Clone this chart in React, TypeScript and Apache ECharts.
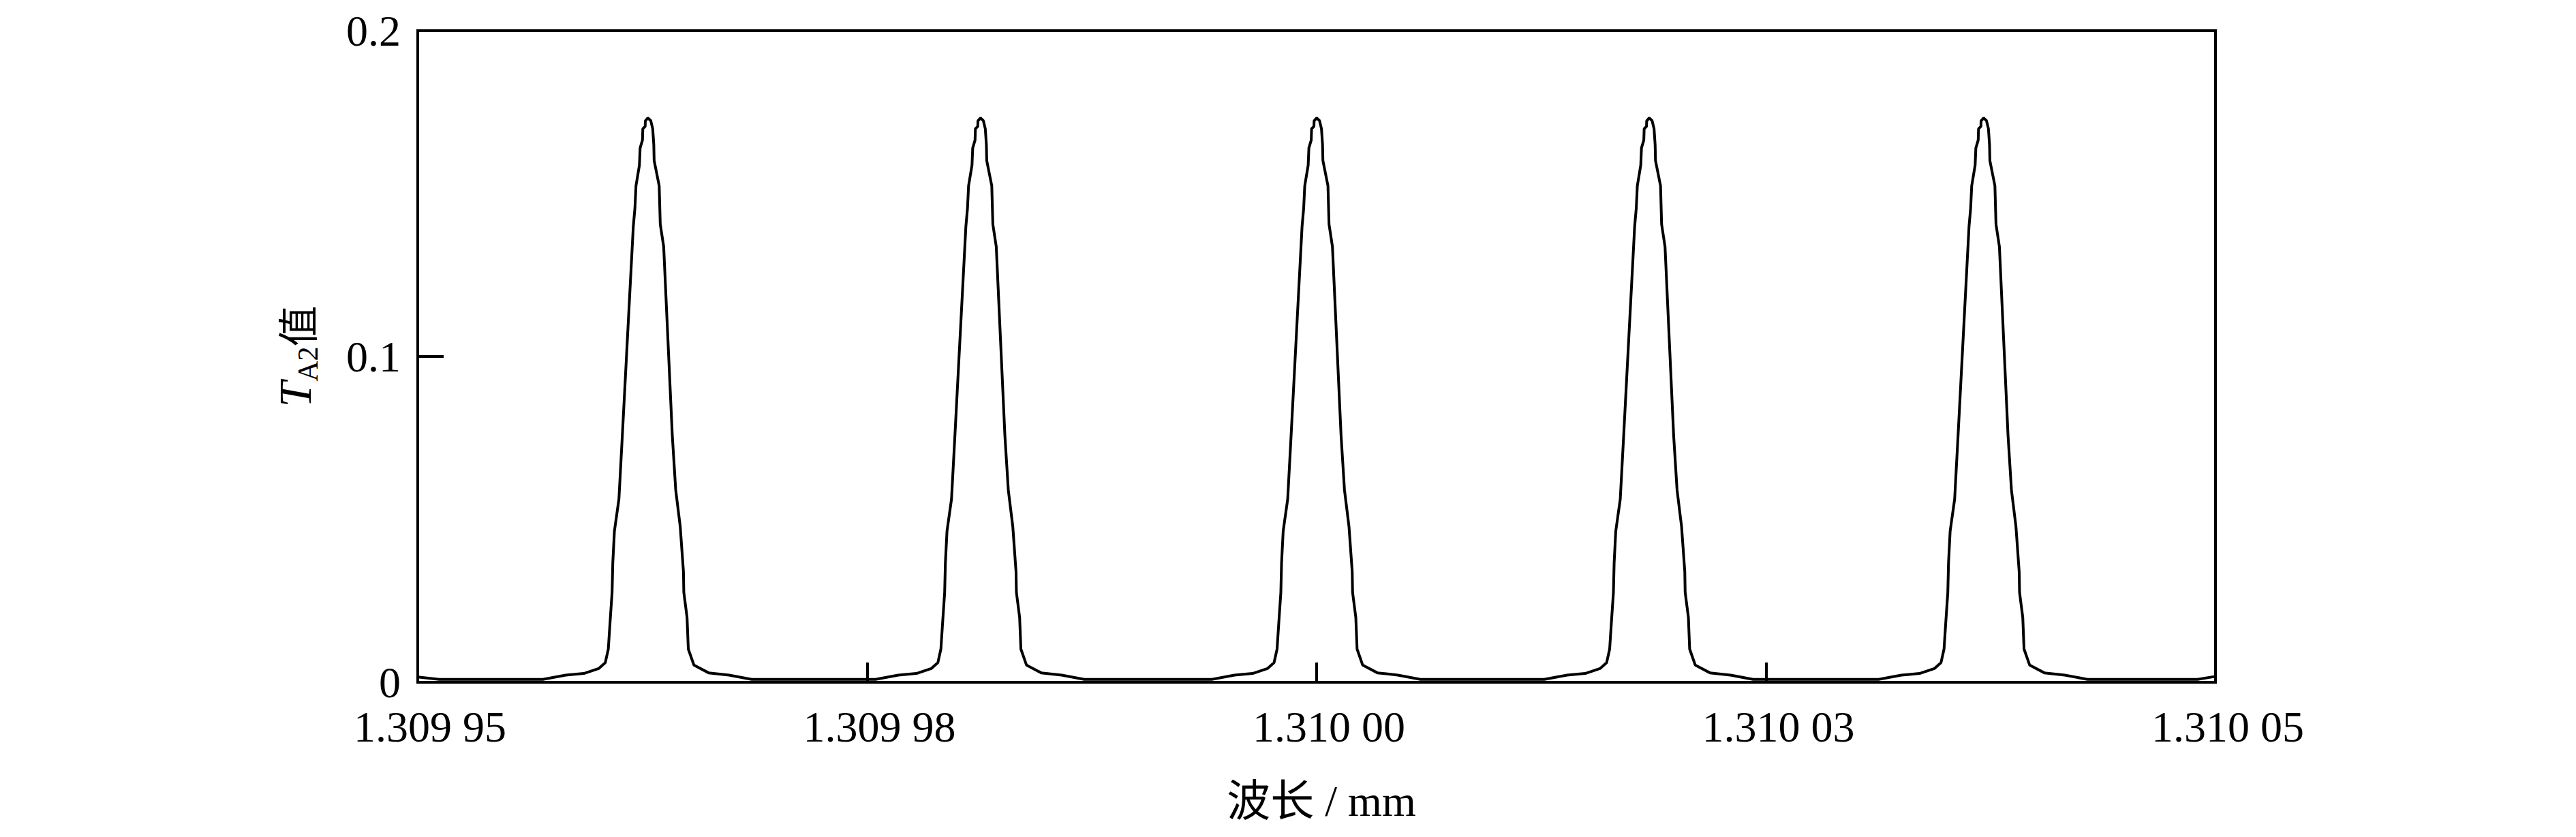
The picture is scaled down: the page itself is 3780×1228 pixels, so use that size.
import React, { useEffect, useRef } from "react";
import * as echarts from "echarts";

// x axis (wavelength, mm)
const xMin = 1.30995;
const xMax = 1.31005;
const xInterval = 0.000025;
const xTickLabels = ["1.309 95", "1.309 98", "1.310 00", "1.310 03", "1.310 05"];

// y axis
const yMin = 0;
const yMax = 0.2;
const yInterval = 0.1;

// peak centres (mm)
const peakCenters = [1.3099628, 1.3099813, 1.31, 1.3100185, 1.3100371];

// one transmission peak: offset from centre (nm = 1e-6 mm) and T_A2 value
const profileOffsetNm = [
  -5.84, -4.57, -3.56, -2.74, -2.37, -2.2, -2.11, -1.99, -1.95, -1.86, -1.61, -1.42,
  -0.81, -0.72, -0.66, -0.47, -0.43, -0.3, -0.28, -0.15, -0.14, 0, 0.16, 0.27, 0.33,
  0.35, 0.63, 0.69, 0.88, 1.36, 1.55, 1.8, 1.98, 2.0, 2.18, 2.25, 2.56, 3.38, 4.52, 5.78,
];
const profileValue = [
  0.0009, 0.0022, 0.0027, 0.0042, 0.006, 0.0102, 0.0178, 0.0276, 0.0367, 0.0464, 0.0562,
  0.0757, 0.1399, 0.1455, 0.1524, 0.1587, 0.164, 0.1664, 0.1699, 0.1706, 0.1723, 0.1732,
  0.1724, 0.1699, 0.165, 0.1601, 0.1524, 0.1406, 0.1337, 0.0757, 0.059, 0.0478, 0.0339,
  0.0276, 0.0199, 0.0102, 0.0053, 0.0029, 0.0022, 0.0009,
];

// ends of the curve at the plot edges
const leftEdgeX = [1.30995, 1.3099512];
const leftEdgeY = [0.0016, 0.0009];
const rightEdgeX = [1.310049, 1.31005];
const rightEdgeY = [0.0009, 0.0018];

function buildData(): [number, number][] {
  const pts: [number, number][] = [];
  leftEdgeX.forEach((x, i) => pts.push([x, leftEdgeY[i]]));
  peakCenters.forEach((c) => {
    profileOffsetNm.forEach((d, i) => pts.push([c + d * 1e-6, profileValue[i]]));
  });
  rightEdgeX.forEach((x, i) => pts.push([x, rightEdgeY[i]]));
  return pts;
}

const SERIF = "'Liberation Serif', 'Times New Roman', 'Noto Sans CJK SC', serif";

export default function App() {
  const ref = useRef<HTMLDivElement>(null);
  useEffect(() => {
    if (!ref.current) return;
    const chart = echarts.init(ref.current, undefined, { renderer: "svg" });
    chart.setOption({
      animation: false,
      backgroundColor: "#ffffff",
      grid: {
        left: 613,
        right: 529,
        top: 45,
        bottom: 227,
        show: true,
        borderColor: "#000",
        borderWidth: 4,
        backgroundColor: "transparent",
      },
      xAxis: {
        type: "value",
        min: xMin,
        max: xMax,
        interval: xInterval,
        name: "波长 / mm",
        nameLocation: "middle",
        nameGap: 142,
        nameTextStyle: { fontFamily: SERIF, fontSize: 64, color: "#000", padding: [0, 0, 0, 14] },
        axisLine: { show: true, lineStyle: { color: "#000", width: 4 } },
        axisTick: { show: true, inside: true, length: 29, lineStyle: { color: "#000", width: 4 } },
        splitLine: { show: false },
        axisLabel: {
          color: "#000",
          fontFamily: SERIF,
          fontSize: 64,
          lineHeight: 60,
          margin: 35,
          padding: [0, 0, 0, 36],
          formatter: (v: number) => {
            const i = Math.round((v - xMin) / xInterval);
            return xTickLabels[i] ?? "";
          },
        },
      },
      yAxis: {
        type: "value",
        min: yMin,
        max: yMax,
        interval: yInterval,
        name: "{t|T}{s|A2}{c|值}",
        nameLocation: "middle",
        nameRotate: 90,
        nameGap: 140,
        nameTextStyle: {
          color: "#000",
          rich: {
            t: { fontFamily: SERIF, fontStyle: "italic", fontSize: 68, color: "#000", verticalAlign: "middle", lineHeight: 80 },
            s: { fontFamily: SERIF, fontSize: 42, color: "#000", verticalAlign: "bottom", lineHeight: 80 },
            c: { fontFamily: "'Noto Sans CJK SC', sans-serif", fontSize: 60, color: "#000", verticalAlign: "middle", lineHeight: 80 },
          },
        },
        axisLine: { show: true, lineStyle: { color: "#000", width: 4 } },
        axisTick: { show: true, inside: true, length: 38, lineStyle: { color: "#000", width: 4 } },
        splitLine: { show: false },
        axisLabel: {
          color: "#000",
          fontFamily: SERIF,
          fontSize: 64,
          lineHeight: 52,
          padding: [0, 0, 4, 0],
          margin: 25,
        },
      },
      series: [
        {
          type: "line",
          data: buildData(),
          showSymbol: false,
          smooth: false,
          lineStyle: { color: "#000", width: 4 },
          clip: true,
        },
      ],
    });
    return () => chart.dispose();
  }, []);
  return (
    <div
      ref={ref}
      style={{ position: "fixed", left: 0, top: 0, width: 3780, height: 1228, background: "#fff" }}
    />
  );
}
